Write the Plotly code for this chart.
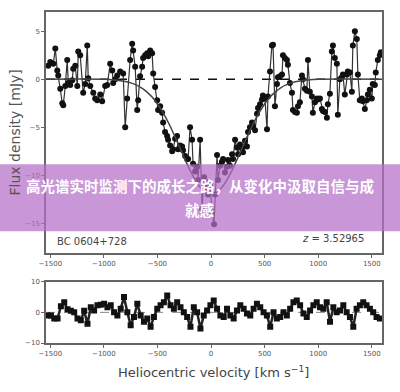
import plotly.graph_objects as go

# ---- data ----
velocity = [-1519,-1500,-1472,-1453,-1435,-1426,-1407,-1388,-1379,-1360,-1342,-1332,-1314,-1295,-1286,-1267,-1248,-1239,-1221,-1193,
            -1174,-1155,-1146,-1127,-1099,-1081,-1062,-1034,-1016,-988,-969,-941,-922,-913,-894,-876,-848,-820,-801,-783,
            -755,-736,-727,-708,-689,-680,-662,-643,-634,-615,-596,-587,-568,-550,-540,-522,-503,-494,-475,-457,
            -447,-429,-410,-401,-382,-363,-354,-335,-317,-307,-289,-270,-261,-242,-224,-214,-196,-177,-168,-149,
            -130,-121,-102,-84,-65,-56,-37,-28,-9,9,28,37,56,65,84,102,112,130,149,158,
            177,196,205,224,242,252,270,289,298,317,335,345,363,382,391,410,429,438,457,475,
            484,503,522,531,550,568,578,596,615,624,643,662,671,689,708,717,736,755,764,783,
            801,811,829,848,857,876,894,904,922,941,950,969,988,997,1016,1034,1044,1062,1081,1090,
            1109,1127,1137,1155,1174,1183,1202,1221,1230,1248,1267,1276,1295,1314,1323,1342,1360,1370,1388,1407,
            1416,1435,1453,1463,1481,1500,1509,1528,1537,1556,1575,1584]
flux = [1.4,1.8,1.6,3.2,0.9,0.4,-1.0,-2.5,-2.7,-0.7,2.0,-0.4,-0.6,-0.1,1.1,1.4,-0.7,2.9,2.5,-1.4,
        -0.5,3.5,0.1,-0.7,-1.4,-2.0,-2.2,-1.6,-2.3,-0.7,-0.6,1.6,0.9,-0.4,0.0,0.4,0.8,0.6,-5.0,-2.0,
        2.0,3.7,3.0,1.3,-3.2,-2.2,0.3,1.3,2.2,2.5,2.7,2.4,3.0,2.7,0.6,-0.8,-2.2,-3.2,-2.8,-3.5,
        -4.5,-5.5,-5.9,-6.3,-6.9,-7.5,-7.3,-6.2,-5.9,-7.3,-6.9,-7.0,-7.4,-8.0,-8.3,-8.3,-5.0,-6.3,-8.8,-9.6,
        -9.1,-10.5,-6.3,-13.5,-10.2,-11.5,-10.7,-12.0,-11.0,-13.8,-15.1,-12.0,-7.9,-10.5,-9.0,-8.6,-8.3,-9.7,-9.1,-8.4,
        -9.0,-7.8,-8.3,-6.3,-7.1,-7.8,-6.8,-7.2,-7.6,-6.4,-7.0,-5.5,-5.0,-4.5,-4.9,-5.3,-3.6,-3.0,-2.6,-2.1,
        -1.7,-2.0,-5.2,-1.8,0.8,3.5,3.6,-2.8,-0.5,0.2,0.3,0.5,2.5,2.2,2.0,1.5,-0.4,-1.4,-3.2,-3.4,
        -3.5,-2.8,-2.4,0.4,0.0,-1.0,-1.2,2.0,-1.3,-1.8,-3.5,-2.4,-2.0,-2.1,-2.0,-3.1,-3.3,-3.4,-4.0,-2.6,
        -1.5,2.9,3.5,2.2,1.6,-3.7,0.0,0.2,0.5,-1.6,0.5,0.8,0.7,-1.3,3.5,5.0,4.2,0.5,-2.2,-2.0,
        -2.3,-3.1,-2.2,-1.6,-1.1,-2.0,-0.5,-0.6,0.7,2.0,2.5,2.8]

fit_velocity = [-1540,-1000,-900,-800,-750,-700,-650,-600,-550,-500,-450,-400,-350,-300,-250,-200,-150,-100,-50,0,
                50,100,150,200,250,300,350,400,450,500,550,600,650,700,750,800,900,1000,1595]
fit_flux = [0,-0.01,-0.08,-0.23,-0.38,-0.59,-0.89,-1.31,-1.86,-2.58,-3.45,-4.48,-5.65,-6.90,-8.17,-9.38,-10.45,-11.28,-11.82,-12.0,
            -11.82,-11.28,-10.45,-9.38,-8.17,-6.90,-5.65,-4.48,-3.45,-2.58,-1.86,-1.31,-0.89,-0.59,-0.38,-0.23,-0.08,-0.01,0]

resid_velocity = list(range(-1525, 1576, 31))
residual = [-1,-1,-2,-2,2.0,3.3,1.0,0.5,0,-2,-2.6,0.5,-3.7,1.7,0.6,2.3,2.5,2.8,1.7,2.3,
            0,-1,1.2,5.0,0,-4.2,-1.5,2.8,-1,-3.1,-2,-4.7,-1.5,1.2,2.3,3.3,5.5,2.3,1.2,3.3,
            1.7,0,-1.5,-4.7,1.7,0,-5.3,-1,0.6,2.3,3.9,1.2,-1,
            -1.5,1.2,-1,-2,0.6,2.3,1.2,-0.4,-1,1.2,2.8,1.7,0,-1,-4.7,0,-2,-1.5,0,-1,
            1.2,3.3,3.9,2.3,-0.4,-1.5,0.6,2.3,3.3,1.7,1.2,3.3,-3.1,1.7,0,0.6,2.3,0,-1.5,-4.7,
            1.2,2.3,3.3,2.3,1.2,0,-1.5,-2]

x_ticks = [-1500, -1000, -500, 0, 500, 1000, 1500]
top_y_ticks = [5, 0, -5, -10, -15]
bottom_y_ticks = [10, 0, -10]

assert len(velocity) == len(flux)
assert len(fit_velocity) == len(fit_flux)
assert len(resid_velocity) == len(residual)

FONT = "DejaVu Sans"
AX = "#666666"
TICKF = dict(family=FONT, size=7, color="#555555")

fig = go.Figure()

# zero line (dashed)
fig.add_trace(go.Scatter(x=[-1540, 1595], y=[0, 0], mode="lines",
                         line=dict(color="#111111", width=1.3, dash="dash"),
                         xaxis="x", yaxis="y", hoverinfo="skip"))
# data
fig.add_trace(go.Scatter(x=velocity, y=flux, mode="lines+markers",
                         line=dict(color="#333333", width=1.2),
                         marker=dict(color="#111111", size=6),
                         xaxis="x", yaxis="y"))
# fit
fig.add_trace(go.Scatter(x=fit_velocity, y=fit_flux, mode="lines",
                         line=dict(color="#444444", width=1.5, shape="spline"),
                         xaxis="x", yaxis="y"))

# residual panel
fig.add_trace(go.Scatter(x=[-1540, 1595], y=[0, 0], mode="lines",
                         line=dict(color="#888888", width=1, dash="dash"),
                         xaxis="x2", yaxis="y2", hoverinfo="skip"))
fig.add_trace(go.Scatter(x=resid_velocity, y=residual, mode="lines+markers",
                         line=dict(color="#222222", width=2.5),
                         marker=dict(color="#111111", size=6, symbol="square"),
                         xaxis="x2", yaxis="y2"))

axis_common = dict(showline=True, mirror=True, linecolor=AX, linewidth=1.5,
                   ticks="outside", ticklen=3, tickcolor=AX, tickfont=TICKF,
                   showgrid=False, zeroline=False)

H_PLOT = 335.0
fig.update_layout(
    width=400, height=392,
    margin=dict(l=46, r=18, t=8, b=49),
    paper_bgcolor="white", plot_bgcolor="white",
    showlegend=False,
    xaxis=dict(domain=[0, 1], range=[-1540, 1595], tickvals=x_ticks, anchor="y", **axis_common),
    yaxis=dict(domain=[(343 - 252) / H_PLOT, 1], range=[-18.1, 7.0], tickvals=top_y_ticks, anchor="x", **axis_common),
    xaxis2=dict(domain=[0, 1], range=[-1540, 1595], tickvals=x_ticks, anchor="y2", **axis_common),
    yaxis2=dict(domain=[0, (343 - 281) / H_PLOT], range=[-10, 10], tickvals=bottom_y_ticks, anchor="x2", **axis_common),
)

# axis titles and panel labels
fig.add_annotation(text="Flux density [mJy]", xref="paper", yref="paper",
                   x=(15 - 46) / 336, y=(343 - 130) / H_PLOT, textangle=-90, showarrow=False,
                   xanchor="center", yanchor="middle",
                   font=dict(family=FONT, size=14, color="#555555"))
fig.add_annotation(text="Heliocentric velocity [km s<sup>−1</sup>]", xref="paper", yref="paper",
                   x=(213 - 46) / 336, y=(343 - 372) / H_PLOT, showarrow=False,
                   xanchor="center", yanchor="middle",
                   font=dict(family=FONT, size=13, color="#444444"))
fig.add_annotation(text="BC 0604+728", xref="paper", yref="paper",
                   x=(55 - 46) / 336, y=(343 - 240) / H_PLOT, showarrow=False,
                   xanchor="left", yanchor="middle",
                   font=dict(family=FONT, size=10, color="#444444"))
fig.add_annotation(text="<i>z</i> = 3.52965", xref="paper", yref="paper",
                   x=(366 - 46) / 336, y=(343 - 237) / H_PLOT, showarrow=False,
                   xanchor="right", yanchor="middle",
                   font=dict(family=FONT, size=10, color="#444444"))

# overlay banner
fig.add_shape(type="rect", xref="paper", yref="paper",
              x0=-46 / 336, x1=(400 - 46) / 336,
              y0=(343 - 230) / H_PLOT, y1=(343 - 162) / H_PLOT,
              fillcolor="rgba(180,110,200,0.72)", line=dict(width=0), layer="above")
CJK = "Noto Sans CJK SC"
fig.add_annotation(text="<b>高光谱实时监测下的成长之路，从变化中汲取自信与成</b>", xref="paper", yref="paper",
                   x=(200 - 46) / 336, y=(343 - 184) / H_PLOT, showarrow=False,
                   xanchor="center", yanchor="middle",
                   font=dict(family=CJK, size=14.5, color="white"))
fig.add_annotation(text="<b>就感</b>", xref="paper", yref="paper",
                   x=(200 - 46) / 336, y=(343 - 208) / H_PLOT, showarrow=False,
                   xanchor="center", yanchor="middle",
                   font=dict(family=CJK, size=14.5, color="white"))

fig.write_html("out.html", config={"displayModeBar": False},
               post_script="document.body.style.margin='0px';document.body.style.overflow='hidden';")
